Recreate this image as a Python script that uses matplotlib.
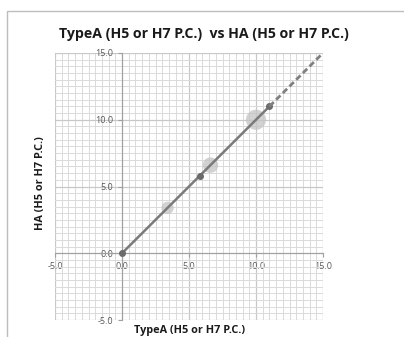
import numpy as np
import matplotlib.pyplot as plt
from matplotlib.ticker import MultipleLocator
from matplotlib.patches import Rectangle

# measured values
line_x = [0.0, 5.8, 11.0]
line_y = [0.0, 5.8, 11.0]
bubble_x = [3.4, 6.6, 10.0]
bubble_y = [3.4, 6.6, 10.0]
bubble_size = [80, 125, 210]
trend_x = [11.0, 15.0]
trend_y = [11.0, 15.0]
ticks = [-5.0, 0.0, 5.0, 10.0, 15.0]

plt.rcParams['font.family'] = ['Open Sans', 'DejaVu Sans']

fig = plt.figure(figsize=(4.04, 3.37), dpi=100)
fig.patches.append(Rectangle((7/404, -0.05), 1.1, (337-11)/337 + 0.05,
                             transform=fig.transFigure, fill=False,
                             edgecolor='#bdbdbd', linewidth=1.0))
ax = fig.add_axes([55/404, (337-320)/337, 268/404, 267/337])

ax.set_xlim(-5, 15)
ax.set_ylim(-5, 15)
ax.xaxis.set_major_locator(MultipleLocator(5))
ax.yaxis.set_major_locator(MultipleLocator(5))
ax.xaxis.set_minor_locator(MultipleLocator(0.5))
ax.yaxis.set_minor_locator(MultipleLocator(0.5))
ax.grid(which='minor', color='#dadada', linewidth=0.7)
ax.grid(which='major', color='#c8c8c8', linewidth=0.9)
ax.set_axisbelow(True)

for s in ['top', 'right']:
    ax.spines[s].set_visible(False)
ax.spines['left'].set_position(('data', 0))
ax.spines['bottom'].set_position(('data', 0))
ax.spines['left'].set_color('#a0a0a0')
ax.spines['bottom'].set_color('#a0a0a0')
ax.tick_params(which='both', length=0, labelsize=6.5, colors='#595959')
ax.tick_params(which='major', length=3, color='#a0a0a0')
ax.set_xticks(ticks)
ax.set_yticks(ticks)
ax.set_xticklabels(['%.1f' % t for t in ticks])
ax.set_yticklabels(['%.1f' % t for t in ticks])

ax.scatter(bubble_x, bubble_y, s=bubble_size, color='#c4c4c4', alpha=0.75,
           edgecolors='none', zorder=3)
ax.plot(line_x, line_y, color='#7a7a7a', linewidth=1.8, zorder=4,
        marker='o', markersize=4, markerfacecolor='#6b6b6b', markeredgecolor='#6b6b6b')
ax.plot(trend_x, trend_y, color='#808080', linewidth=2, linestyle=(0, (2.2, 1.2)), zorder=4)

fig.text(0.505, 0.9, 'TypeA (H5 or H7 P.C.)  vs HA (H5 or H7 P.C.)',
         ha='center', va='center', fontsize=10.2, fontweight='bold', color='#1a1a1a')
fig.text(190/404, 6/337, 'TypeA (H5 or H7 P.C.)', ha='center', va='center',
         fontsize=7.8, fontweight='bold', color='#1a1a1a')
fig.text(40/404, (337-183)/337, 'HA (H5 or H7 P.C.)', ha='center', va='center',
         rotation=90, fontsize=7.8, fontweight='bold', color='#1a1a1a')

fig.savefig('out.png', dpi=100)
